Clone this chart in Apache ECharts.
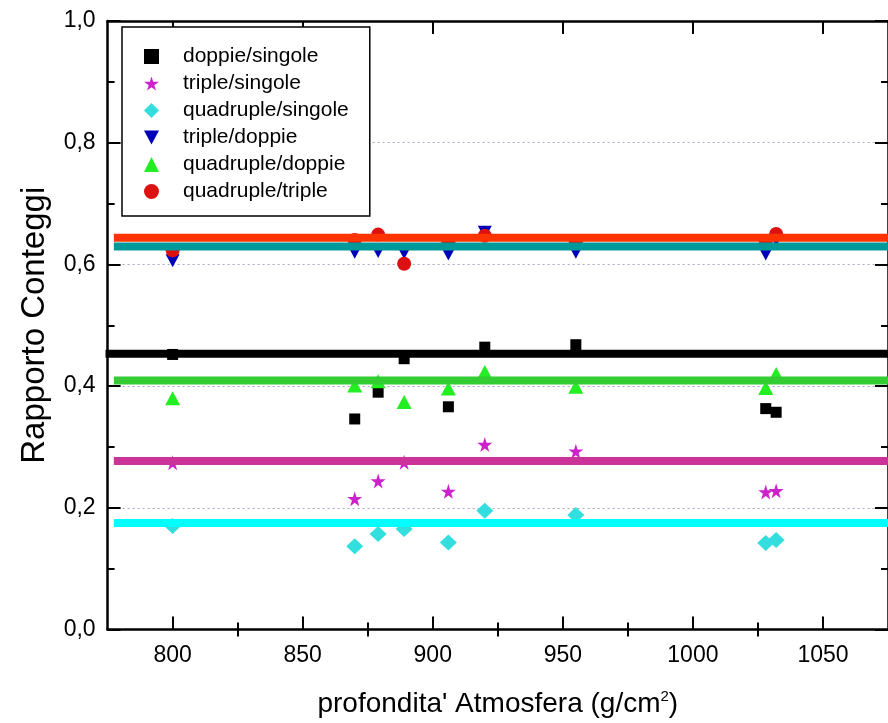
<!DOCTYPE html>
<html>
<head>
<meta charset="utf-8">
<script src="https://cdn.jsdelivr.net/npm/echarts@6/dist/echarts.min.js"></script>
<style>
html,body{margin:0;padding:0;background:#fff;}
#c{width:888px;height:723px;}
</style>
</head>
<body>
<div id="c"></div>
<script>
// ---- data ----
var depth = [800, 870, 879, 889, 906, 920, 955, 1028, 1032];
var doppieSingole    = [0.452, 0.346, 0.390, 0.445, 0.366, 0.464, 0.468, 0.363, 0.357];
var tripleSingole    = [0.274, 0.215, 0.244, 0.275, 0.227, 0.304, 0.293, 0.226, 0.228];
var quadrupleSingole = [0.170, 0.137, 0.157, 0.165, 0.143, 0.195, 0.188, 0.142, 0.147];
var tripleDoppie     = [0.606, 0.620, 0.621, 0.619, 0.617, 0.653, 0.620, 0.617, 0.640];
var quadrupleDoppie  = [0.380, 0.401, 0.408, 0.374, 0.396, 0.423, 0.399, 0.397, 0.420];
var quadrupleTriple  = [0.623, 0.640, 0.649, 0.601, 0.636, 0.647, 0.636, 0.637, 0.650];

// constant fit levels
var fitQuadTriple = 0.6437;
var fitTripleDoppie = 0.6294;
var fitDoppieSingole = 0.453;
var fitQuadDoppie = 0.4094;
var fitTripleSingole = 0.277;
var fitQuadSingole = 0.1752;
var fitStart = 777.4;
var fitStartBlack = 774.2;
var fitEnd = 1075;

var xMajorTicks = [800, 850, 900, 950, 1000, 1050];
var xMinorTicks = [825, 875, 925, 975, 1025];
var xMin = 775, xMax = 1075;
var yMin = 0, yMax = 1, yInterval = 0.2;

var seriesNames = ['doppie/singole', 'triple/singole', 'quadruple/singole',
                   'triple/doppie', 'quadruple/doppie', 'quadruple/triple'];

function pairs(xs, ys) { return xs.map(function (x, i) { return [x, ys[i]]; }); }

var FONT = "'Liberation Sans', Arial, sans-serif";
var starPath = 'path://M50,0 L61,35 L98,35 L68,57 L79,91 L50,70 L21,91 L32,57 L2,35 L39,35 Z';
var downTrianglePath = 'path://M0,0 L14,0 L7,13 Z';

function fitLine(level, color, start, clip) {
  return {
    type: 'line', data: [[start, level], [fitEnd, level]],
    symbol: 'none', silent: true, z: 5, clip: clip,
    lineStyle: { color: color, width: 8 }
  };
}

var axisLineStyle = { color: '#000', width: 2.5 };

var legendData = seriesNames.map(function (n, i) {
  return i === 3 ? { name: n, icon: downTrianglePath } : { name: n };
});

var chart = echarts.init(document.getElementById('c'), null, { renderer: 'canvas' });
chart.setOption({
  animation: false,
  backgroundColor: '#fff',
  textStyle: { fontFamily: FONT },
  grid: { left: 107.6, top: 21, width: 787.5, height: 610 },
  legend: {
    data: legendData,
    orient: 'vertical',
    left: 122, top: 27,
    itemWidth: 15, itemHeight: 15, itemGap: 6,
    padding: [19, 21, 14, 22],
    borderColor: '#000', borderWidth: 1.5,
    backgroundColor: '#fff',
    textStyle: { fontSize: 21, lineHeight: 20.5, color: '#000', fontFamily: FONT, padding: [0, 0, 0, 19] },
    z: 10
  },
  xAxis: [
    {
      type: 'value', position: 'bottom', min: xMin, max: xMax,
      name: "{a|profondita' Atmosfera (g/cm}{s|2}{a|)}",
      nameLocation: 'middle', nameGap: 60,
      nameTextStyle: {
        rich: {
          a: { fontSize: 28, fontFamily: FONT, color: '#000' },
          s: { fontSize: 15, fontFamily: FONT, color: '#000', verticalAlign: 'top', padding: [0, 0, 14, 0] }
        }
      },
      axisLine: { show: true, onZero: false, lineStyle: axisLineStyle },
      axisTick: { show: true, inside: true, length: 13, customValues: xMajorTicks, lineStyle: { color: '#000', width: 2 } },
      axisLabel: { customValues: xMajorTicks, fontSize: 23, color: '#000', margin: 15, fontFamily: FONT,
        formatter: function (v) { return String(v); } },
      splitLine: { show: false }
    },
    {
      type: 'value', position: 'bottom', min: xMin, max: xMax,
      axisLine: { show: false },
      axisTick: { show: true, inside: true, length: 7, customValues: xMinorTicks, lineStyle: { color: '#000', width: 2 } },
      axisLabel: { show: false },
      splitLine: { show: false }
    },
    {
      type: 'value', position: 'top', min: xMin, max: xMax,
      axisLine: { show: true, onZero: false, lineStyle: axisLineStyle },
      axisTick: { show: true, inside: true, length: 13, customValues: xMajorTicks, lineStyle: { color: '#000', width: 2 } },
      axisLabel: { show: false },
      splitLine: { show: false }
    },
    {
      type: 'value', position: 'top', min: xMin, max: xMax,
      axisLine: { show: false },
      axisTick: { show: true, inside: true, length: 7, customValues: xMinorTicks, lineStyle: { color: '#000', width: 2 } },
      axisLabel: { show: false },
      splitLine: { show: false }
    }
  ],
  yAxis: [
    {
      type: 'value', position: 'left', min: yMin, max: yMax, interval: yInterval,
      name: 'Rapporto Conteggi', nameLocation: 'middle', nameGap: 56,
      nameTextStyle: { fontSize: 33, color: '#000', fontFamily: FONT },
      axisLine: { show: true, onZero: false, lineStyle: axisLineStyle },
      axisTick: { show: true, inside: true, length: 13, lineStyle: { color: '#000', width: 2 } },
      minorTick: { show: true, splitNumber: 2, length: 7, lineStyle: { color: '#000', width: 2 } },
      axisLabel: {
        fontSize: 23, color: '#000', margin: 12, fontFamily: FONT,
        formatter: function (v) { return v.toFixed(1).replace('.', ','); }
      },
      splitLine: { show: true, lineStyle: { color: '#a8a8c4', width: 1, type: [2, 3] } }
    },
    {
      type: 'value', position: 'right', min: yMin, max: yMax, interval: yInterval,
      axisLine: { show: true, onZero: false, lineStyle: axisLineStyle },
      axisTick: { show: true, inside: true, length: 13, lineStyle: { color: '#000', width: 2 } },
      minorTick: { show: true, splitNumber: 2, length: 7, lineStyle: { color: '#000', width: 2 } },
      axisLabel: { show: false },
      splitLine: { show: false }
    }
  ],
  series: [
    { name: seriesNames[0], type: 'scatter', data: pairs(depth, doppieSingole),
      symbol: 'rect', symbolSize: 11, itemStyle: { color: '#000000', opacity: 1 }, z: 2 },
    { name: seriesNames[1], type: 'scatter', data: pairs(depth, tripleSingole),
      symbol: starPath, symbolSize: 15, itemStyle: { color: '#cc22cc', opacity: 1 }, z: 2 },
    { name: seriesNames[2], type: 'scatter', data: pairs(depth, quadrupleSingole),
      symbol: 'diamond', symbolSize: [17, 16], itemStyle: { color: '#33dede', opacity: 1 }, z: 2 },
    { name: seriesNames[3], type: 'scatter', data: pairs(depth, tripleDoppie),
      symbol: 'triangle', symbolRotate: 180, symbolSize: [14, 13], itemStyle: { color: '#0000bb', opacity: 1 }, z: 2 },
    { name: seriesNames[4], type: 'scatter', data: pairs(depth, quadrupleDoppie),
      symbol: 'triangle', symbolSize: [15, 14], itemStyle: { color: '#22ee22', opacity: 1 }, z: 2 },
    { name: seriesNames[5], type: 'scatter', data: pairs(depth, quadrupleTriple),
      symbol: 'circle', symbolSize: 14, itemStyle: { color: '#dd1111', opacity: 1 }, z: 2 },

    fitLine(fitQuadSingole, '#00ffff', fitStart, true),
    fitLine(fitTripleSingole, '#cc3399', fitStart, true),
    fitLine(fitQuadDoppie, '#33cc33', fitStart, true),
    fitLine(fitDoppieSingole, '#000000', fitStartBlack, false),
    fitLine(fitTripleDoppie, '#009999', fitStart, true),
    fitLine(fitQuadTriple, '#ff3300', fitStart, true)
  ]
});
</script>
</body>
</html>
